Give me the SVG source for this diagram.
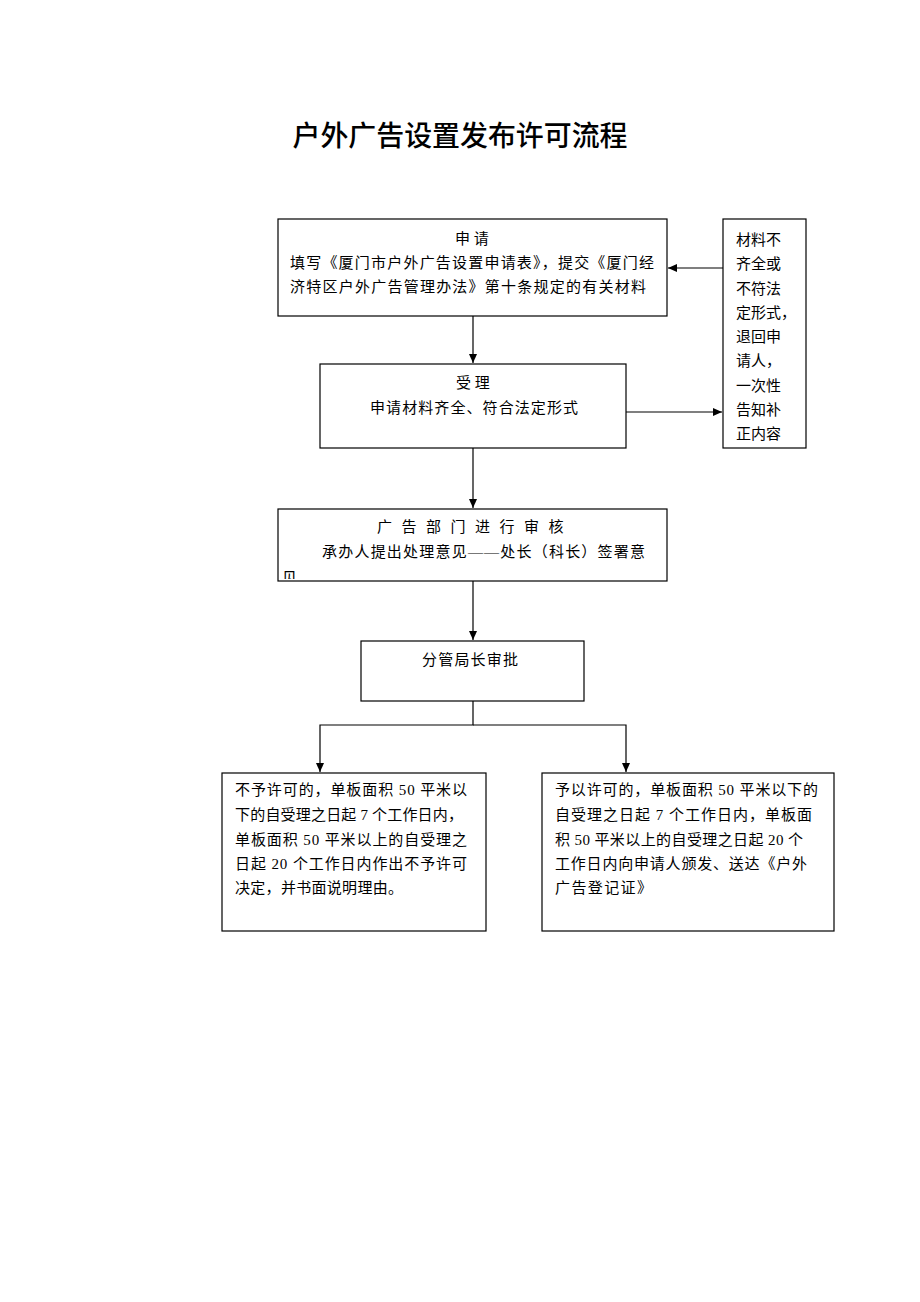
<svg xmlns="http://www.w3.org/2000/svg" width="920" height="1302" viewBox="0 0 920 1302">
<style>
.box{fill:#fff;stroke:#000;stroke-width:1.2}
.t{font-family:"Liberation Serif","Noto Sans CJK SC",serif;font-size:15px;fill:#000}
.c{text-anchor:middle}
.ln{stroke:#000;stroke-width:1.2;fill:none}
.title{font-family:"Noto Sans CJK SC",sans-serif;font-size:28px;font-weight:500;fill:#000}
</style>
<defs>
<marker id="ah" markerWidth="10" markerHeight="10" refX="9" refY="5" orient="auto" markerUnits="userSpaceOnUse">
<path d="M0,1 L9,5 L0,9 Z" fill="#000"/>
</marker>
<clipPath id="clipYi"><rect x="278" y="563" width="30" height="16"/></clipPath>
</defs>
<rect width="920" height="1302" fill="#fff"/>
<text class="title" x="460" y="146" text-anchor="middle" textLength="335" lengthAdjust="spacingAndGlyphs">户外广告设置发布许可流程</text>

<g id="connectors">
<line class="ln" x1="723" y1="268" x2="668" y2="268" marker-end="url(#ah)"/>
<line class="ln" x1="626" y1="412" x2="722" y2="412" marker-end="url(#ah)"/>
<line class="ln" x1="473" y1="316" x2="473" y2="363" marker-end="url(#ah)"/>
<line class="ln" x1="473" y1="448" x2="473" y2="508" marker-end="url(#ah)"/>
<line class="ln" x1="473" y1="581" x2="473" y2="640" marker-end="url(#ah)"/>
<polyline class="ln" points="473,701 473,725 320,725 320,772" marker-end="url(#ah)"/>
<polyline class="ln" points="473,725 626,725 626,772" marker-end="url(#ah)"/>
</g>

<g id="apply">
<rect class="box" x="278" y="219" width="389" height="97"/>
<text class="t c" x="472" y="244">申 请</text>
<text class="t" x="290" y="268" textLength="364">填写《厦门市户外广告设置申请表》，提交《厦门经</text>
<text class="t" x="290" y="292" textLength="356">济特区户外广告管理办法》第十条规定的有关材料</text>
</g>

<g id="accept">
<rect class="box" x="320" y="364" width="306" height="84"/>
<text class="t c" x="473" y="388">受 理</text>
<text class="t" x="370" y="413" textLength="208">申请材料齐全、符合法定形式</text>
</g>

<g id="return">
<rect class="box" x="723" y="219" width="83" height="229"/>
<text class="t" x="736" y="245">材料不</text>
<text class="t" x="736" y="269">齐全或</text>
<text class="t" x="736" y="294">不符法</text>
<text class="t" x="736" y="318">定形式，</text>
<text class="t" x="736" y="342">退回申</text>
<text class="t" x="736" y="366">请人，</text>
<text class="t" x="736" y="391">一次性</text>
<text class="t" x="736" y="415">告知补</text>
<text class="t" x="736" y="439">正内容</text>
</g>

<g id="review">
<rect class="box" x="278" y="509" width="389" height="72"/>
<text class="t c" x="475" y="532" letter-spacing="9.5">广告部门进行审核</text>
<text class="t" x="322" y="557" textLength="323">承办人提出处理意见——处长（科长）签署意</text>
<text class="t" x="282" y="583" clip-path="url(#clipYi)">见</text>
</g>

<g id="approve">
<rect class="box" x="361" y="641" width="223" height="60"/>
<text class="t" x="422" y="665" textLength="96">分管局长审批</text>
</g>

<g id="deny">
<rect class="box" x="222" y="773" width="264" height="158"/>
<text class="t" x="235" y="795" textLength="232">不予许可的，单板面积 50 平米以</text>
<text class="t" x="235" y="820" textLength="228">下的自受理之日起 7 个工作日内，</text>
<text class="t" x="235" y="845" textLength="232">单板面积 50 平米以上的自受理之</text>
<text class="t" x="235" y="869" textLength="232">日起 20 个工作日内作出不予许可</text>
<text class="t" x="235" y="893" textLength="168">决定，并书面说明理由。</text>
</g>

<g id="grant">
<rect class="box" x="542" y="773" width="292" height="158"/>
<text class="t" x="555" y="795" textLength="263">予以许可的，单板面积 50 平米以下的</text>
<text class="t" x="555" y="820" textLength="257">自受理之日起 7 个工作日内，单板面</text>
<text class="t" x="555" y="845" textLength="248">积 50 平米以上的自受理之日起 20 个</text>
<text class="t" x="555" y="869" textLength="252">工作日内向申请人颁发、送达《户外</text>
<text class="t" x="555" y="893" textLength="97">广告登记证》</text>
</g>
</svg>
